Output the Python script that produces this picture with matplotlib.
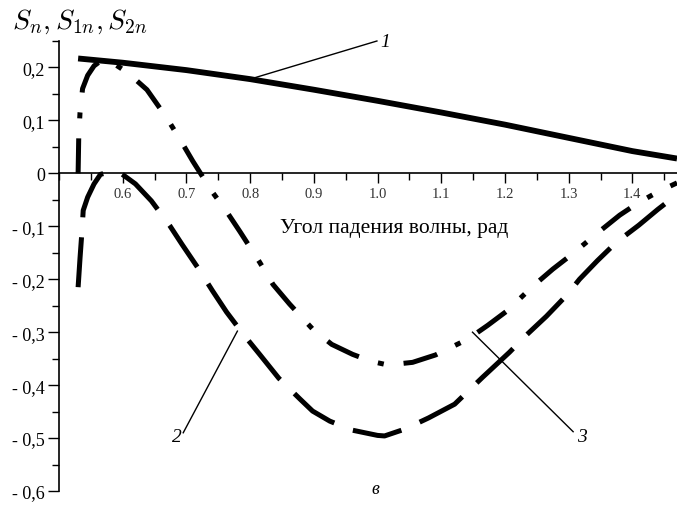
# Gráfico S_n, S_1n, S_2n en función del ángulo de incidencia
# curvas: 1 -> continua, 2 -> trazos, 3 -> trazo-punto
import matplotlib
matplotlib.use("Agg")  # sin pantalla
import matplotlib.pyplot as plt
import matplotlib.ticker as mticker

RUTA_GRAF = "out.png"

# ----------- Datos --------------------------------
X_1 = [0.53, 0.6, 0.7, 0.8, 0.9, 1.0, 1.1, 1.2, 1.3, 1.4, 1.47]
Y_1 = [0.217, 0.209, 0.195, 0.178, 0.158, 0.137, 0.115, 0.092, 0.067, 0.042, 0.028]

X_2 = [0.53, 0.533, 0.536, 0.538, 0.545, 0.555, 0.565, 0.58, 0.595, 0.62, 0.645,
       0.674, 0.693, 0.72, 0.741, 0.763, 0.79, 0.815, 0.845, 0.878, 0.898, 0.925,
       0.96, 1.0, 1.011, 1.043, 1.08, 1.121, 1.165, 1.207, 1.234, 1.265, 1.297,
       1.317, 1.345, 1.375, 1.41, 1.44, 1.47]
Y_2 = [-0.215, -0.16, -0.11, -0.07, -0.045, -0.02, -0.002, 0.003, 0.002, -0.02, -0.052,
       -0.099, -0.134, -0.182, -0.222, -0.262, -0.305, -0.342, -0.387, -0.426, -0.449, -0.468,
       -0.485, -0.495, -0.496, -0.483, -0.462, -0.436, -0.385, -0.338, -0.305, -0.27, -0.23,
       -0.2, -0.165, -0.13, -0.098, -0.068, -0.04]

X_3 = [0.53, 0.531, 0.533, 0.537, 0.545, 0.555, 0.565, 0.58, 0.608, 0.638, 0.669,
       0.69, 0.71, 0.74, 0.763, 0.784, 0.815, 0.836, 0.862, 0.898, 0.928, 0.961,
       0.99, 1.016, 1.055, 1.091, 1.142, 1.173, 1.203, 1.244, 1.275, 1.305,
       1.349, 1.38, 1.41, 1.44, 1.47]
Y_3 = [0.0, 0.07, 0.115, 0.16, 0.185, 0.203, 0.212, 0.212, 0.19, 0.158, 0.105,
       0.064, 0.023, -0.034, -0.072, -0.11, -0.168, -0.21, -0.247, -0.294, -0.323, -0.342,
       -0.355, -0.362, -0.357, -0.343, -0.313, -0.287, -0.26, -0.213, -0.181, -0.153,
       -0.109, -0.079, -0.055, -0.035, -0.018]

TICKS_Y = [0.2, 0.1, 0.0, -0.1, -0.2, -0.3, -0.4, -0.5, -0.6]
ETIQ_Y = ["0,2", "0,1", "0", "- 0,1", "- 0,2", "- 0,3", "- 0,4", "- 0,5", "- 0,6"]
TICKS_X = [0.6, 0.7, 0.8, 0.9, 1.0, 1.1, 1.2, 1.3, 1.4]
ETIQ_X = ["0.6", "0.7", "0.8", "0.9", "1.0", "1.1", "1.2", "1.3", "1.4"]

# números de curva: (texto, posición del texto, punto sobre la curva, extremo de la línea)
NUMEROS = [
    ("1", (1.012, 0.25), (0.8, 0.178), (0.999, 0.25)),
    ("2", (0.685, -0.498), (0.78, -0.298), (0.695, -0.49)),
    ("3", (1.32, -0.498), (1.149, -0.30), (1.307, -0.488)),
]

SERIF = ["Liberation Serif", "DejaVu Serif"]


def generar_grafico(ruta_salida: str) -> None:
    plt.rcParams["mathtext.fontset"] = "cm"
    fig = plt.figure(figsize=(6.77, 5.06), dpi=100)
    ax = fig.add_axes([59 / 677, 14 / 506, 618 / 677, 450 / 506])

    # curvas
    ax.plot(X_1, Y_1, color="black", linewidth=4.2, solid_capstyle="butt")
    ax.plot(X_2, Y_2, color="black", linewidth=3.6, linestyle=(0, (10, 4)),
            dash_capstyle="butt")
    ax.plot(X_3, Y_3, color="black", linewidth=3.6, linestyle=(0, (7, 4, 1.2, 4)),
            dash_capstyle="butt")

    ax.set_xlim(0.5, 1.47)
    ax.set_ylim(-0.6, 0.25)

    # ejes en cruz
    ax.spines["top"].set_visible(False)
    ax.spines["right"].set_visible(False)
    ax.spines["bottom"].set_position(("data", 0))
    ax.spines["left"].set_linewidth(1.2)
    ax.spines["bottom"].set_linewidth(1.2)

    ax.set_xticks(TICKS_X)
    ax.set_xticklabels(ETIQ_X, family=SERIF, fontsize=10.5, color="#333333")
    ax.xaxis.set_minor_locator(mticker.MultipleLocator(0.05))
    ax.set_yticks(TICKS_Y)
    ax.set_yticklabels(ETIQ_Y, family=SERIF, fontsize=13)
    ax.yaxis.set_minor_locator(mticker.MultipleLocator(0.05))
    ax.tick_params(axis="x", which="major", direction="out", length=7, width=1, pad=3)
    ax.tick_params(axis="x", which="minor", direction="out", length=5, width=1)
    ax.tick_params(axis="y", which="major", direction="out", length=8, width=1, pad=2)
    ax.tick_params(axis="y", which="minor", direction="out", length=5, width=1)

    # textos
    ax.text(1.026, -0.102, "Угол падения волны, рад", family=SERIF, fontsize=15.5,
            ha="center", va="center")
    fig.text(12 / 677, 1 - 22 / 506, r"$S_n, S_{1n}, S_{2n}$", fontsize=20,
             ha="left", va="center")
    fig.text(375 / 677, 1 - 490 / 506, "в", family=SERIF, style="italic",
             fontsize=13, ha="center", va="center")

    for texto, pos, punto, extremo in NUMEROS:
        ax.plot([punto[0], extremo[0]], [punto[1], extremo[1]], color="black",
                linewidth=1.0, clip_on=False)
        ax.text(pos[0], pos[1], texto, family=SERIF, style="italic", fontsize=14,
                ha="center", va="center")

    plt.savefig(ruta_salida, dpi=100)
    plt.close()


if __name__ == "__main__":
    generar_grafico(RUTA_GRAF)
